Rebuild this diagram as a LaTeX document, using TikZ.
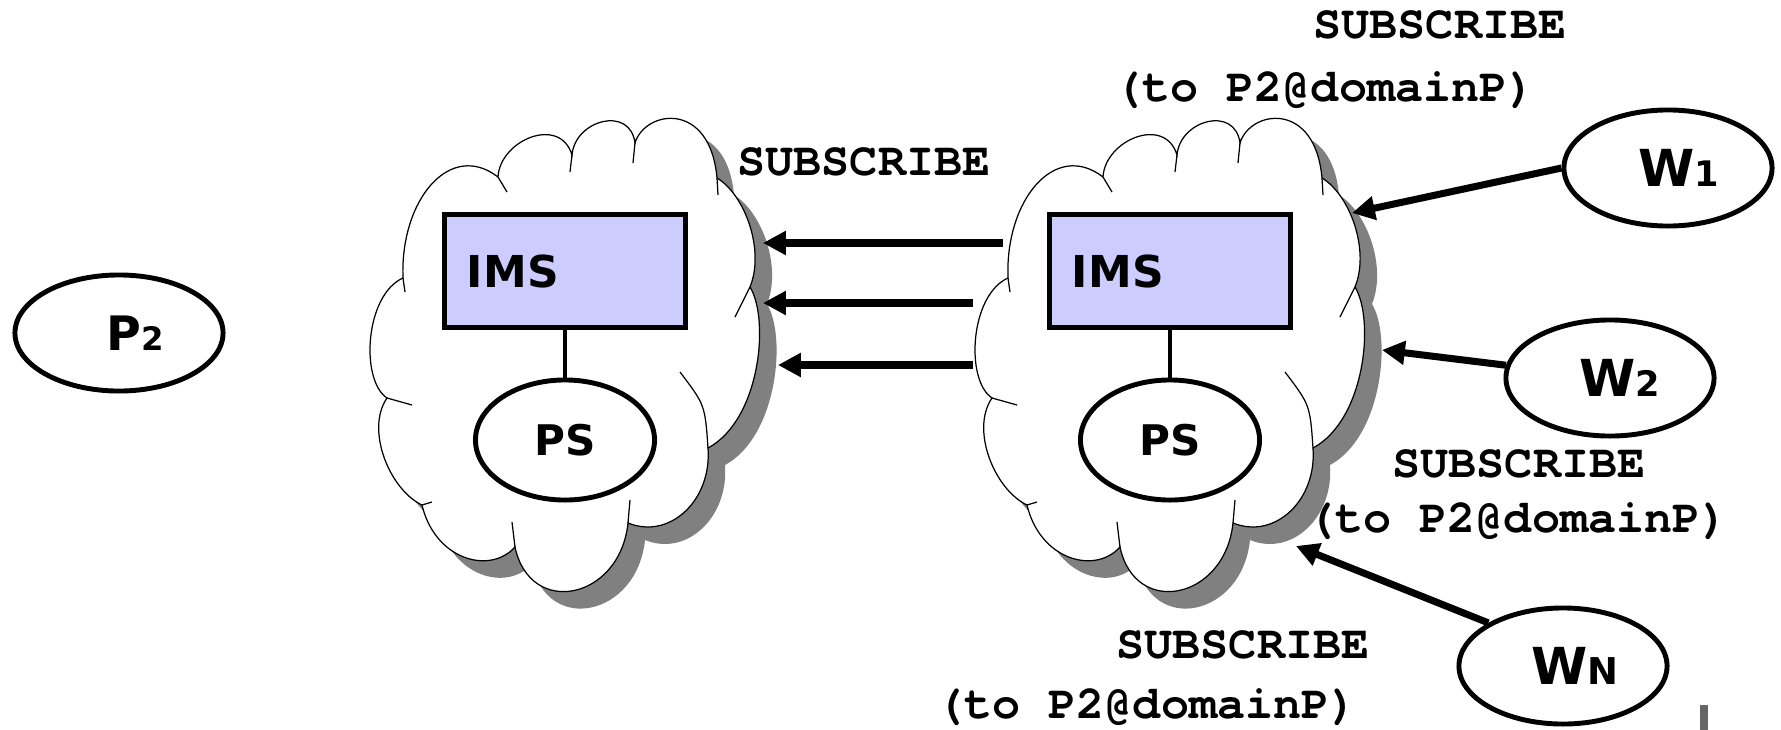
\documentclass[tikz,border=0pt]{standalone}
\usepackage{fontspec}
\setsansfont{DejaVu Sans}
\setmonofont{texgyrecursor-regular.otf}[BoldFont=texgyrecursor-bold.otf]
\usepackage{tikz}
\usetikzlibrary{
  shapes.geometric,
  arrows.meta,
  positioning
}
\definecolor{imsfill}{HTML}{CCCCFF}
\definecolor{shadowgray}{HTML}{808080}
\newcommand{\lowidx}[2][10]{{\fontsize{#1}{12}\selectfont #2}}
% outline of one cloud, relative to its centre
\newcommand{\cloudpath}{(-162,-82)
  .. controls (-165,-160) and (-115,-220) .. (-67,-183)
  .. controls (-65,-220) and (-5,-245) .. (7,-205)
  .. controls (10,-240) and (65,-255) .. (70,-217)
  .. controls (80,-250) and (145,-260) .. (152,-182)
  .. controls (180,-165) and (200,-110) .. (185,-73)
  .. controls (205,-40) and (195,60) .. (143,88)
  .. controls (147,140) and (105,180) .. (63,163)
  .. controls (55,240) and (-35,258) .. (-50,187)
  .. controls (-75,215) and (-130,200) .. (-143,145)
  .. controls (-175,130) and (-200,70) .. (-178,38)
  .. controls (-205,20) and (-200,-65) .. (-162,-82) -- cycle}
\tikzset{>=latex}
\tikzset{
  imsbox/.style={rectangle, draw, line width=1.4pt, fill=imsfill,
    minimum width=2.4cm, minimum height=1.13cm, text width=1.96cm,
    align=left, inner xsep=0.22cm,
    font=\sffamily\bfseries\fontsize{12.5}{15}\selectfont},
  psnode/.style={ellipse, draw, line width=1.4pt, fill=white,
    minimum width=1.79cm, minimum height=1.2cm, inner sep=1pt,
    font=\sffamily\bfseries\fontsize{12}{14}\selectfont},
  party/.style={ellipse, draw, line width=1.4pt, fill=white,
    minimum width=2.08cm, minimum height=1.16cm, inner sep=1pt,
    font=\sffamily\bfseries\fontsize{14.5}{17}\selectfont},
  msg/.style={font=\ttfamily\bfseries\fontsize{13.3}{16}\selectfont, inner sep=0pt},
  subarrow/.style={line width=2pt, -{Triangle[length=6.5pt,width=6.5pt]}},
  link/.style={line width=1.4pt},
  pics/imscloud/.style={code={
    \fill[shadowgray, shift={(17,17)}] \cloudpath;
    \filldraw[fill=white, draw=black, line width=0.35pt] \cloudpath;
    \foreach \xa/\ya/\xb/\yb in {-67/-183/-58/-168, 7/-205/5/-188,
        70/-217/68/-197, 152/-182/153/-165, 185/-73/170/-43,
        63/163/65/140, -50/187/-53/162, -143/145/-133/142,
        -178/38/-153/45, -162/-82/-160/-68}
      \draw[line width=0.35pt] (\xa,\ya) -- (\xb,\yb);
    \draw[line width=0.35pt] (143,88) .. controls (140,45) .. (115,12);
  }}
}
\begin{document}
\begin{tikzpicture}[x=0.01cm, y=-0.01cm]
  \useasboundingbox (0,0) rectangle (1781,730);
  % the two domains
  \pic (cloudL) at (565,360) {imscloud};
  \pic (cloudR) at (1170,360) {imscloud};
  \node[imsbox] (imsL) at (565,271) {IMS};
  \node[imsbox] (imsR) at (1170,271) {IMS};
  \node[psnode] (psL) at (565,440) {PS\hspace{0.56cm}};
  \node[psnode] (psR) at (1170,440) {PS\hspace{0.56cm}};
  \draw[link] (imsL) -- (psL);
  \draw[link] (imsR) -- (psR);
  % presentity and watchers
  \node[party, font=\sffamily\bfseries\fontsize{13.5}{16}\selectfont] (p2) at (119,333) {\hspace{0.32cm}P\lowidx[9.2]{2}};
  \node[party] (w1) at (1668,168) {\hspace{0.22cm}W\lowidx{1}};
  \node[party] (w2) at (1610,378) {\hspace{0.2cm}W\lowidx{2}};
  \node[party] (wn) at (1563,666) {\hspace{0.24cm}W\lowidx[10.5]{N}};
  % messages
  \foreach \i/\ys/\xs/\xe in {1/243/1003/763, 2/303/973/763, 3/365/973/778} {
    \coordinate (from\i) at (\xs,\ys);
    \coordinate (to\i) at (\xe,\ys);
    \draw[subarrow] (from\i) -- (to\i);
  }
  \coordinate (w1tip) at (1352,213);
  \coordinate (w2tip) at (1382,350);
  \coordinate (wntip) at (1296,546);
  \draw[subarrow] (w1.west) -- (w1tip);
  \draw[subarrow] (w2) -- (w2tip);
  \draw[subarrow] (wn.150) -- (wntip);
  \node[msg] (subM) at (864,162) {SUBSCRIBE};
  \node[msg] (subT) at (1440,25) {SUBSCRIBE};
  \node[msg] (toT) at (1325,90) {(to P2@domainP)};
  \node[msg] (subR) at (1519,464) {SUBSCRIBE};
  \node[msg] (toR) at (1518,521) {(to P2@domainP)};
  \node[msg] (subB) at (1243,645) {SUBSCRIBE};
  \node[msg] (toB) at (1147,707) {(to P2@domainP)};
  \fill[black!60] (1700,705) rectangle (1708,730);
\end{tikzpicture}
\end{document}
